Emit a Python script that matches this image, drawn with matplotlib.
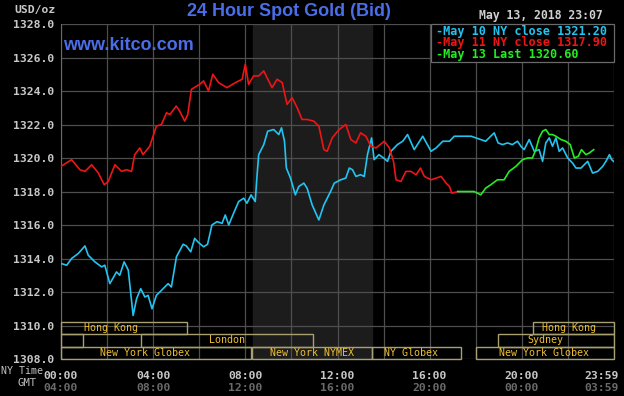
import matplotlib
matplotlib.use("Agg")
import matplotlib.pyplot as plt
import matplotlib.transforms as mtransforms
from matplotlib.patches import Rectangle

# May 10 NY close series (hours from 00:00 NY time, price)
may10_hours = [0.0, 0.25, 0.46, 0.75, 1.04, 1.18, 1.47, 1.76, 1.9, 2.12, 2.41, 2.55, 2.74, 2.92,
               3.13, 3.28, 3.46, 3.64, 3.78, 3.95, 4.14, 4.36, 4.65, 4.79, 5.01, 5.3, 5.44, 5.63,
               5.8, 5.97, 6.19, 6.36, 6.55, 6.77, 6.99, 7.13, 7.28, 7.49, 7.71, 7.93, 8.07, 8.25,
               8.43, 8.5, 8.58, 8.8, 8.97, 9.23, 9.45, 9.57, 9.7, 9.78, 9.96, 10.17, 10.32, 10.54,
               10.68, 10.9, 11.19, 11.41, 11.7, 11.86, 12.14, 12.36, 12.51, 12.65, 12.8, 13.0,
               13.16, 13.3, 13.48, 13.59, 13.8, 14.0, 14.17, 14.32, 14.6, 14.83, 15.04, 15.33,
               15.7, 16.06, 16.28, 16.57, 16.86, 17.07, 17.36, 17.8, 18.22, 18.43, 18.65, 18.8,
               18.97, 19.16, 19.38, 19.59, 19.81, 19.96, 20.1, 20.32, 20.54, 20.75, 20.9, 21.04,
               21.19, 21.33, 21.48, 21.62, 21.77, 21.99, 22.2, 22.35, 22.57, 22.71, 22.86, 23.07,
               23.29, 23.51, 23.65, 23.8, 23.9, 23.98]
may10_price = [1313.7, 1313.6, 1314.0, 1314.3, 1314.75, 1314.2, 1313.8, 1313.5, 1313.6, 1312.5,
               1313.2, 1313.0, 1313.8, 1313.3, 1310.6, 1311.6, 1312.2, 1311.7, 1311.8, 1311.0,
               1311.8, 1312.1, 1312.5, 1312.3, 1314.1, 1314.85, 1314.75, 1314.4, 1315.2, 1314.95,
               1314.7, 1314.85, 1316.0, 1316.2, 1316.1, 1316.6, 1316.0, 1316.7, 1317.4, 1317.6,
               1317.3, 1317.8, 1317.4, 1318.8, 1320.2, 1320.8, 1321.6, 1321.7, 1321.4, 1321.8,
               1321.0, 1319.4, 1318.8, 1317.8, 1318.3, 1318.5, 1318.2, 1317.2, 1316.3, 1317.2,
               1318.0, 1318.5, 1318.7, 1318.8, 1319.4, 1319.3, 1318.9, 1319.0, 1318.9, 1320.2,
               1321.2, 1319.9, 1320.2, 1320.0, 1319.8, 1320.4, 1320.8, 1321.0, 1321.4, 1320.5,
               1321.3, 1320.4, 1320.6, 1321.0, 1321.0, 1321.3, 1321.3, 1321.3, 1321.1, 1321.0,
               1321.3, 1321.5, 1320.9, 1320.8, 1320.9, 1320.8, 1321.0, 1320.7, 1320.5, 1321.1,
               1320.4, 1320.5, 1319.8, 1320.9, 1321.2, 1320.7, 1321.2, 1320.4, 1320.6, 1320.0,
               1319.7, 1319.4, 1319.4, 1319.6, 1319.8, 1319.1, 1319.2, 1319.5, 1319.8, 1320.2,
               1319.9, 1319.8]

# May 11 NY close series
may11_hours = [0.0, 0.46, 0.82, 1.04, 1.33, 1.62, 1.88, 2.05, 2.34, 2.63, 2.84, 3.06, 3.2, 3.42,
               3.56, 3.85, 4.14, 4.36, 4.58, 4.73, 5.0, 5.15, 5.37, 5.5, 5.66, 6.02, 6.19, 6.4,
               6.59, 6.84, 7.2, 7.57, 7.86, 8.0, 8.14, 8.36, 8.58, 8.8, 8.94, 9.16, 9.38, 9.6,
               9.81, 10.03, 10.25, 10.46, 10.68, 10.97, 11.19, 11.41, 11.55, 11.77, 12.07, 12.36,
               12.58, 12.8, 13.0, 13.23, 13.45, 13.67, 14.03, 14.25, 14.43, 14.54, 14.75, 14.97,
               15.19, 15.41, 15.6, 15.77, 16.06, 16.28, 16.5, 16.71, 16.86, 16.96, 17.22]
may11_price = [1319.5, 1319.9, 1319.3, 1319.2, 1319.6, 1319.1, 1318.4, 1318.6, 1319.6, 1319.2,
               1319.3, 1319.2, 1320.2, 1320.6, 1320.2, 1320.7, 1321.9, 1322.0, 1322.7, 1322.6,
               1323.1, 1322.8, 1322.2, 1322.6, 1324.1, 1324.4, 1324.6, 1324.0, 1325.0, 1324.5,
               1324.2, 1324.5, 1324.7, 1325.6, 1324.4, 1324.9, 1324.9, 1325.2, 1324.8, 1324.2,
               1324.7, 1324.5, 1323.2, 1323.6, 1323.0, 1322.3, 1322.3, 1322.2, 1321.9, 1320.5,
               1320.4, 1321.2, 1321.7, 1322.0, 1321.1, 1320.9, 1321.5, 1321.3, 1320.7, 1320.6,
               1321.0, 1320.6, 1319.8, 1318.7, 1318.6, 1319.2, 1319.2, 1319.0, 1319.4, 1318.9,
               1318.7, 1318.8, 1318.9, 1318.5, 1318.3, 1317.9, 1318.0]

# May 13 last series
may13_hours = [17.22, 17.6, 17.93, 18.22, 18.43, 18.65, 18.94, 19.23, 19.45, 19.74, 20.03, 20.25,
               20.46, 20.61, 20.75, 20.9, 21.04, 21.19, 21.33, 21.48, 21.7, 21.91, 22.1, 22.28,
               22.45, 22.59, 22.78, 22.93, 23.12]
may13_price = [1318.0, 1318.0, 1318.0, 1317.8, 1318.2, 1318.4, 1318.7, 1318.7, 1319.2, 1319.5,
               1319.9, 1320.0, 1320.0, 1320.5, 1321.2, 1321.6, 1321.7, 1321.4, 1321.4, 1321.3,
               1321.1, 1321.0, 1320.8, 1320.0, 1320.1, 1320.5, 1320.2, 1320.3, 1320.5]

legend_labels = ["-May 10 NY close 1321.20", "-May 11 NY close 1317.90", "-May 13 Last 1320.60"]
ny_ticks = [0, 4, 8, 12, 16, 20, 23.47]
ny_labels = ["00:00", "04:00", "08:00", "12:00", "16:00", "20:00", "23:59"]
gmt_labels = ["04:00", "08:00", "12:00", "16:00", "20:00", "00:00", "03:59"]

# sessions: (row, start, end, label, label position)
sessions = [
    (0, 0.0, 5.47, "Hong Kong", 2.15),
    (0, 20.5, 24.0, "Hong Kong", 22.06),
    (1, 0.0, 0.96, "", 0),
    (1, 3.47, 10.93, "London", 7.2),
    (1, 18.96, 24.0, "Sydney", 21.0),
    (2, 0.0, 8.23, "New York Globex", 3.65),
    (2, 8.29, 13.5, "New York NYMEX", 10.9),
    (2, 13.5, 17.35, "NY Globex", 15.2),
    (2, 18.0, 24.0, "New York Globex", 20.95),
]

W, H = 624, 396
fig = plt.figure(figsize=(W / 100, H / 100), dpi=100, facecolor="black")
ax = fig.add_axes([61 / W, 1 - 359 / H, 553 / W, 335 / H], facecolor="black")

mono = "DejaVu Sans Mono"

ax.axvspan(8.33, 13.5, color="#1c1c1c", zorder=0)
for h in range(0, 25, 2):
    ax.axvline(h, color="#4e4e4e", lw=0.9, zorder=1)
for v in range(1308, 1329, 2):
    ax.axhline(v, color="#4e4e4e", lw=0.9, zorder=1)

ax.plot(may10_hours, may10_price, color="#22c4f0", lw=1.2, zorder=3)
ax.plot(may11_hours, may11_price, color="#ee1515", lw=1.2, zorder=3)
ax.plot(may13_hours, may13_price, color="#22ee22", lw=1.2, zorder=4)

ax.set_xlim(0, 24)
ax.set_ylim(1308, 1328)
for s in ax.spines.values():
    s.set_visible(False)
ax.spines["left"].set_visible(True)
ax.spines["left"].set_color("#6a6a6a")
ax.set_xticks([])
ax.set_yticks(range(1308, 1329, 2))
ax.set_yticklabels([f"{v}.0" for v in range(1308, 1329, 2)], fontfamily=mono,
                   fontweight="bold", fontsize=8.2, color="#c8c8c8")
ax.tick_params(axis="y", length=0, pad=5)

# session bars at bottom
trans = mtransforms.blended_transform_factory(ax.transData, ax.transAxes)
row_y = [0.075, 0.036, 0.0]
row_h = [0.036, 0.039, 0.036]
for row, x0, x1, label, lx in sessions:
    ax.add_patch(Rectangle((x0, row_y[row]), x1 - x0, row_h[row], transform=trans,
                           fill=False, edgecolor="#a8a070", lw=1.0, zorder=5, clip_on=False))
    if label:
        ax.text(lx, row_y[row] + row_h[row] / 2, label, transform=trans, ha="center",
                va="center", fontfamily=mono, fontsize=7.2, color="#f0c030", zorder=6)

# x labels (NY time and GMT)
for t, ny, gmt in zip(ny_ticks, ny_labels, gmt_labels):
    ax.text(t, -0.035, ny, transform=trans, ha="center", va="top", fontfamily=mono,
            fontweight="bold", fontsize=8.2, color="#c8c8c8")
    ax.text(t, -0.072, gmt, transform=trans, ha="center", va="top", fontfamily=mono,
            fontweight="bold", fontsize=8.2, color="#6a6a6a")
fig.text(1 / W, 1 - 371 / H, "NY Time", ha="left", va="center", fontfamily=mono,
         fontsize=7.2, color="#c0c0c0")
fig.text(37 / W, 1 - 383 / H, "GMT", ha="right", va="center", fontfamily=mono,
         fontsize=7.6, color="#c0c0c0")

# header texts
fig.text(289 / W, 1 - 12 / H, "24 Hour Spot Gold (Bid)", ha="center", va="center",
         fontfamily="Liberation Sans", fontweight="bold", fontsize=13, color="#4a6ee8")
fig.text(63 / W, 1 - 45 / H, "www.kitco.com", ha="left", va="center",
         fontfamily="Liberation Sans", fontweight="bold", fontsize=13, color="#4a6ee8")
fig.text(56 / W, 1 - 10 / H, "USD/oz", ha="right", va="center", fontfamily=mono,
         fontweight="bold", fontsize=8.2, color="#c8c8c8")
fig.text(603 / W, 1 - 15 / H, "May 13, 2018 23:07", ha="right", va="center",
         fontfamily=mono, fontweight="bold", fontsize=8.3, color="#d0d0d0")

# legend box
fig.patches.append(Rectangle((431 / W, 1 - 62 / H), 183 / W, 38 / H, transform=fig.transFigure,
                             facecolor="black", edgecolor="#6a6a6a", lw=0.9, zorder=10))
for i, (lab, col) in enumerate(zip(legend_labels, ["#22c4f0", "#ee1515", "#22ee22"])):
    fig.text(436 / W, 1 - (31 + 11.8 * i) / H, lab, ha="left", va="center", fontfamily=mono,
             fontweight="bold", fontsize=8.5, color=col, zorder=11)

fig.savefig("out.png", dpi=100, facecolor="black")
